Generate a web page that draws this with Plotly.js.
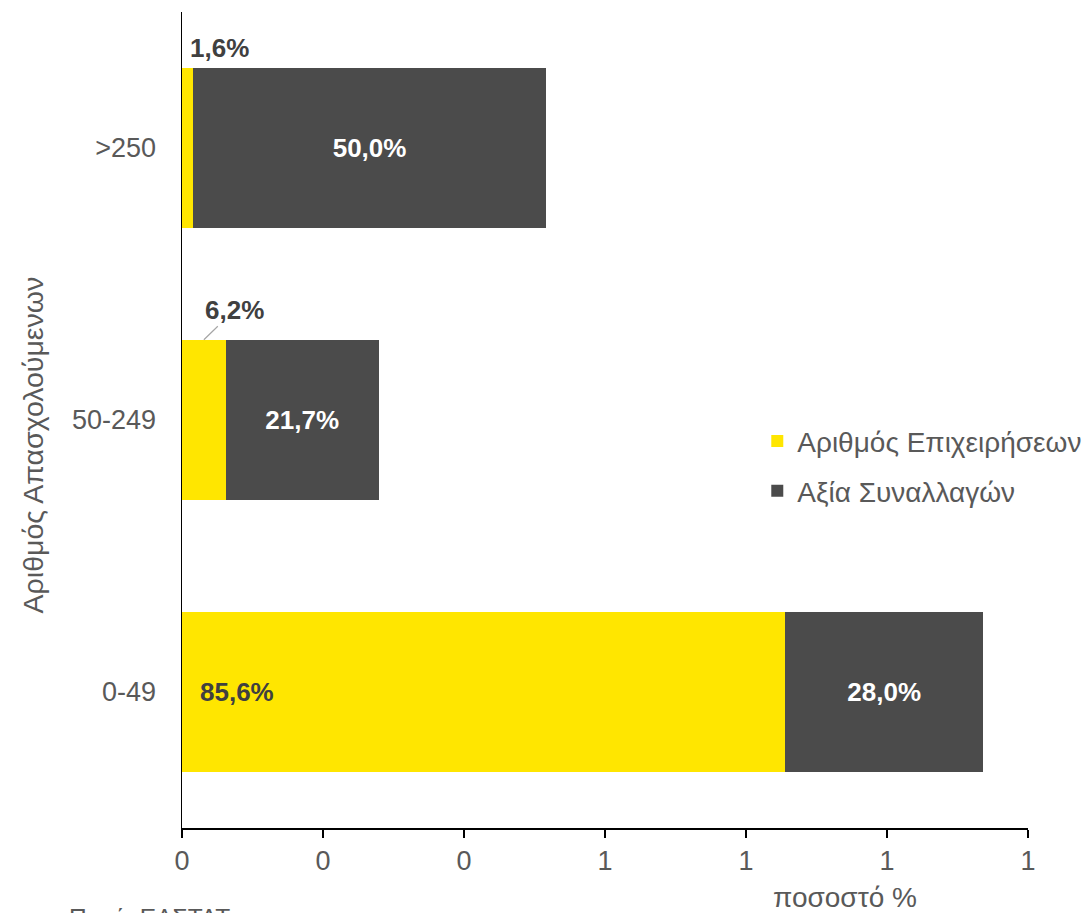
<!DOCTYPE html>
<html>
<head>
<meta charset="utf-8">
<script src="https://cdn.plot.ly/plotly-3.0.1.min.js"></script>
<style>
  html, body { margin: 0; padding: 0; background: #ffffff; }
  #chart { width: 1087px; height: 913px; }
</style>
</head>
<body>
<div id="chart"></div>
<script>
// Employment-size classes (bottom to top)
const categories = ['0-49', '50-249', '>250'];
// Share of number of businesses
const firmsShare = [0.856, 0.062, 0.016];
// Share of transaction value
const valueShare = [0.280, 0.217, 0.500];
// x-axis ticks and their (rounded) labels
const xTickVals = [0, 0.2, 0.4, 0.6, 0.8, 1.0, 1.2];
const xTickText = ['0', '0', '0', '1', '1', '1', '1'];

const seriesNames = ['Αριθμός Επιχειρήσεων', 'Αξία Συναλλαγών'];
const yTitle = 'Αριθμός Απασχολούμενων';
const xTitle = 'ποσοστό %';
const sourceText = 'Πηγή: ΕΛΣΤΑΤ';

const YELLOW = '#FFE600';
const DARK = '#4B4B4B';
const GREY_TEXT = '#595959';
const FONT = 'Arial, "Liberation Sans", sans-serif';
const BAR_WIDTH = 0.59;

const pct = v => (v * 100).toFixed(1).replace('.', ',') + '%';

const traces = [
  {
    type: 'bar', orientation: 'h',
    y: categories, x: firmsShare,
    name: seriesNames[0],
    marker: { color: YELLOW },
    width: BAR_WIDTH,
    hoverinfo: 'skip',
    legend: 'legend'
  },
  {
    type: 'bar', orientation: 'h',
    y: categories, x: valueShare,
    name: seriesNames[1],
    marker: { color: DARK },
    width: BAR_WIDTH,
    text: valueShare.map(pct),
    textposition: 'inside',
    insidetextanchor: 'middle',
    textfont: { family: FONT, size: 26, color: '#ffffff', weight: 'bold' },
    hoverinfo: 'skip',
    legend: 'legend2'
  }
];

const labelFont = { family: FONT, size: 26, color: '#404040', weight: 'bold' };

const annotations = [
  // value label inside the large yellow bar
  {
    x: 0, y: categories[0], xref: 'x', yref: 'y',
    text: '<b>' + pct(firmsShare[0]) + '</b>',
    showarrow: false, xanchor: 'left', yanchor: 'middle', xshift: 16,
    font: labelFont
  },
  // small segment label with a leader line
  {
    x: firmsShare[1] / 2, y: 1 + BAR_WIDTH / 2, xref: 'x', yref: 'y',
    text: '<b>' + pct(firmsShare[1]) + '</b>',
    showarrow: true, arrowhead: 0, arrowwidth: 1.2, arrowcolor: '#a6a6a6',
    ax: 31, ay: -30, standoff: 0, startstandoff: 0,
    font: labelFont
  },
  // small segment label above the top bar
  {
    x: 0, y: 2 + BAR_WIDTH / 2, xref: 'x', yref: 'y',
    text: '<b>' + pct(firmsShare[2]) + '</b>',
    showarrow: false, xanchor: 'left', yanchor: 'bottom', xshift: 6, yshift: 3,
    font: labelFont
  },
  // axis titles and source
  {
    x: -0.176, y: 0.469, xref: 'paper', yref: 'paper',
    text: yTitle, textangle: -90, showarrow: false,
    xanchor: 'center', yanchor: 'middle',
    font: { family: FONT, size: 28.5, color: GREY_TEXT }
  },
  {
    x: 0.784, y: -0.0846, xref: 'paper', yref: 'paper',
    text: xTitle, showarrow: false,
    xanchor: 'center', yanchor: 'middle',
    font: { family: FONT, size: 28, color: GREY_TEXT }
  },
  {
    x: -0.136, y: -0.091, xref: 'paper', yref: 'paper',
    text: sourceText, showarrow: false,
    xanchor: 'left', yanchor: 'top',
    font: { family: FONT, size: 24.5, color: GREY_TEXT }
  }
];

const layout = {
  width: 1087, height: 913,
  margin: { l: 182, r: 59, t: 12, b: 85, autoexpand: false },
  paper_bgcolor: '#ffffff', plot_bgcolor: '#ffffff',
  barmode: 'stack',
  font: { family: FONT, color: GREY_TEXT },
  xaxis: {
    range: [0, 1.2],
    tickvals: xTickVals, ticktext: xTickText,
    ticks: 'outside', ticklen: 8, tickwidth: 1.5, tickcolor: '#000000',
    showline: true, linecolor: '#000000', linewidth: 1.5,
    showgrid: false, zeroline: false,
    tickfont: { family: FONT, size: 27, color: GREY_TEXT },
    fixedrange: true
  },
  yaxis: {
    type: 'category', categoryorder: 'array', categoryarray: categories,
    range: [-0.5, 2.5],
    ticks: '', showline: true, linecolor: '#000000', linewidth: 1.5,
    showgrid: false, zeroline: false,
    ticklabelstandoff: 19,
    tickfont: { family: FONT, size: 27, color: GREY_TEXT },
    fixedrange: true
  },
  legend: {
    x: 0.68, y: 0.474, xanchor: 'left', yanchor: 'middle',
    bgcolor: 'rgba(0,0,0,0)', itemclick: false,
    font: { family: FONT, size: 28, color: GREY_TEXT }
  },
  legend2: {
    x: 0.68, y: 0.413, xanchor: 'left', yanchor: 'middle',
    bgcolor: 'rgba(0,0,0,0)', itemclick: false,
    font: { family: FONT, size: 28, color: GREY_TEXT }
  },
  showlegend: true,
  annotations: annotations
};

Plotly.newPlot('chart', traces, layout, { displayModeBar: false, staticPlot: true });
</script>
</body>
</html>
